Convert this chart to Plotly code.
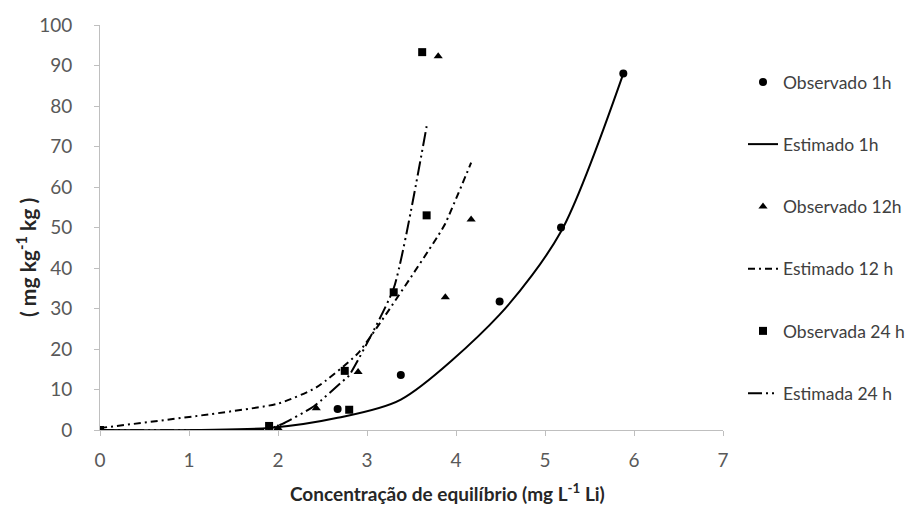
import plotly.graph_objects as go

# Observed data
obs1_x = [0, 2.67, 3.38, 4.49, 5.18, 5.88]
obs1_y = [0, 5.2, 13.6, 31.7, 50.0, 88.0]
obs12_x = [0, 2.0, 2.43, 2.9, 3.8, 3.88, 4.17]
obs12_y = [0, 0.5, 5.4, 14.3, 92.3, 32.8, 52.0]
obs24_x = [0, 1.9, 2.75, 2.8, 3.3, 3.62, 3.67]
obs24_y = [0, 1.0, 14.6, 5.0, 34.0, 93.3, 53.0]

# Estimated curves
est1_x = [0, 1.9, 2.67, 3.38, 4.49, 5.18, 5.88]
est1_y = [0, 0.5, 3.0, 7.5, 28.5, 49.0, 88.0]
est12_x = [0, 2.0, 2.43, 2.9, 3.8, 3.88, 4.17]
est12_y = [0.5, 6.5, 10.5, 19.0, 48.0, 51.0, 66.0]
est24_x = [0, 1.9, 2.05, 2.4, 2.75, 2.8, 3.3, 3.67]
est24_y = [0, 0.3, 1.5, 5.8, 12.5, 13.5, 35.0, 75.0]

x_ticks = [0, 1, 2, 3, 4, 5, 6, 7]
y_ticks = [0, 10, 20, 30, 40, 50, 60, 70, 80, 90, 100]

FONT = "Lato"
fig = go.Figure()

fig.add_trace(go.Scatter(x=obs1_x, y=obs1_y, mode="markers", name="Observado 1h",
                         marker=dict(symbol="circle", size=8, color="black"), legendgroup="a"))
fig.add_trace(go.Scatter(x=est1_x, y=est1_y, mode="lines", name="Estimado 1h",
                         line=dict(color="black", width=2, shape="spline", smoothing=0.8), legendgroup="b"))
fig.add_trace(go.Scatter(x=obs12_x, y=obs12_y, mode="markers", name="Observado 12h",
                         marker=dict(symbol="triangle-up", size=8, color="black"), legendgroup="c"))
fig.add_trace(go.Scatter(x=est12_x, y=est12_y, mode="lines", name="Estimado 12 h",
                         line=dict(color="black", width=2, dash="7px,4px,2px,4px", shape="spline", smoothing=0.5),
                         legendgroup="d"))
fig.add_trace(go.Scatter(x=obs24_x, y=obs24_y, mode="markers", name="Observada 24 h",
                         marker=dict(symbol="square", size=8, color="black"), legendgroup="e"))
fig.add_trace(go.Scatter(x=est24_x, y=est24_y, mode="lines", name="Estimada 24 h",
                         line=dict(color="black", width=2, dash="14px,4px,2px,4px,2px,4px", shape="spline", smoothing=0.5),
                         legendgroup="f"))

axis_common = dict(showline=True, linecolor="#bfbfbf", linewidth=1, ticks="outside",
                   tickcolor="#bfbfbf", ticklen=5, showgrid=False, zeroline=False, automargin=False,
                   tickfont=dict(family=FONT, size=19, color="#595959"))

fig.update_xaxes(range=[0, 7], tickvals=x_ticks, ticktext=[str(v) for v in x_ticks],
                 ticklabelstandoff=8, **axis_common)
fig.update_yaxes(range=[0, 100], tickvals=y_ticks, ticktext=[str(v) for v in y_ticks],
                 ticklabelstandoff=18, **axis_common)

fig.add_annotation(text="Concentração de equilíbrio (mg L<sup>-1</sup> Li)", xref="paper", yref="paper",
                   x=507 / 909, y=0, xanchor="center", yanchor="middle", showarrow=False,
                   font=dict(family=FONT, size=19, color="#262626", weight="bold"),
                   yshift=-62)
fig.add_annotation(text="( mg kg<sup>-1</sup> kg )", xref="paper", yref="paper",
                   x=0, y=(430 - 258) / 405, xanchor="center", yanchor="middle", showarrow=False,
                   textangle=-90, xshift=-74,
                   font=dict(family=FONT, size=21, color="#262626", weight="bold"))

fig.update_layout(
    width=909, height=506,
    margin=dict(l=100, r=186, t=25, b=76, autoexpand=False),
    paper_bgcolor="white", plot_bgcolor="white",
    showlegend=True,
    legend=dict(x=743 / 909, xref="container", y=1 - 64 / 506, yref="container", yanchor="top",
                xanchor="left", tracegroupgap=36.5, traceorder="grouped", maxheight=1.0,
                font=dict(family=FONT, size=17.5, color="#404040"), bgcolor="rgba(0,0,0,0)"),
)

fig.write_html("out.html", config={"displayModeBar": False},
               post_script="document.body.style.margin='0';document.body.style.overflow='hidden';")
